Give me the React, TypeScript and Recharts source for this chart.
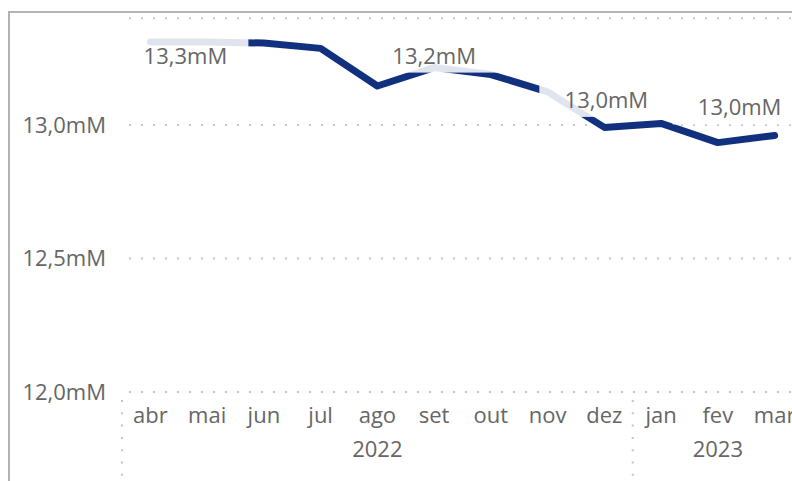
import React from 'react';
import { LineChart, Line, XAxis, YAxis, CartesianGrid } from 'recharts';

const months = ['abr', 'mai', 'jun', 'jul', 'ago', 'set', 'out', 'nov', 'dez', 'jan', 'fev', 'mar'];
const years = ['2022', '2022', '2022', '2022', '2022', '2022', '2022', '2022', '2022', '2023', '2023', '2023'];
const values = [13.311, 13.311, 13.307, 13.287, 13.146, 13.215, 13.189, 13.124, 12.991, 13.006, 12.934, 12.961];
const yTicks = [12.0, 12.5, 13.0];

// label placement (style only)
const labelOffsets: Record<string, { dx: number; dy: number }> = {
  abr: { dx: 35, dy: 14 },
  set: { dx: 0, dy: -12 },
  dez: { dx: 2, dy: -27.5 },
  mar: { dx: -35, dy: -28 },
};

const data = months.map((m, i) => ({ month: m, year: years[i], value: values[i] }));

const FONT = "'Open Sans', sans-serif";
const TEXT = '#666666';
const NAVY = '#11317f';
const STEP = 56.75;

const fmt = (v: number) => v.toFixed(1).replace('.', ',') + 'mM';

const groups = (() => {
  const g: { start: number; end: number; year: string }[] = [];
  years.forEach((y, i) => {
    if (i === 0 || y !== years[i - 1]) g.push({ start: i, end: i, year: y });
    else g[g.length - 1].end = i;
  });
  return g;
})();

const MonthTick = (props: any) => {
  const { x, y, payload } = props;
  const idx = payload?.index ?? props.index;
  const grp = groups.find((g) => idx >= g.start && idx <= g.end)!;
  const isStart = grp.start === idx;
  const mid = (grp.start + grp.end) / 2;
  const isMid = Math.floor(mid) === idx;
  return (
    <g>
      <text x={x} y={y + 31} textAnchor="middle" fill={TEXT} fontSize={22} fontFamily={FONT}>
        {payload.value}
      </text>
      {isMid && (
        <text x={x + (mid - idx) * STEP} y={y + 65} textAnchor="middle" fill={TEXT} fontSize={22} fontFamily={FONT}>
          {grp.year}
        </text>
      )}
      {isStart && (
        <line
          x1={x - STEP / 2}
          x2={x - STEP / 2}
          y1={y + 2}
          y2={y + 86}
          stroke="#c4c4c4"
          strokeWidth={2}
          strokeDasharray="0 6 2 4.3"
        />
      )}
    </g>
  );
};

const renderLabel = (props: any) => {
  const { x, y, index, value } = props;
  const off = labelOffsets[months[index]];
  if (!off) return null;
  const cx = x + off.dx;
  const cc = y + off.dy;
  return (
    <g key={`lbl-${index}`}>
      <rect x={cx - 67} y={cc - 19} width={130} height={36} fill="#ffffff" fillOpacity={0.87} />
      <text x={cx} y={cc + 8} textAnchor="middle" fill={TEXT} fontSize={22} fontFamily={FONT}>
        {fmt(value)}
      </text>
    </g>
  );
};

export default function App() {
  return (
    <div style={{ position: 'fixed', left: 0, top: 0, width: 792, height: 481, overflow: 'hidden', background: '#fff' }}>
      <div style={{ position: 'absolute', left: 0, top: 0 }}>
        <LineChart
          width={830}
          height={481}
          data={data}
          margin={{ top: 18.2, right: 27, bottom: 0, left: 0 }}
        >
          <CartesianGrid vertical={false} stroke="#c4c4c4" strokeWidth={2} strokeDasharray="0 7 2 3" />
          <XAxis
            dataKey="month"
            type="category"
            padding={{ left: 28.4, right: 28.4 }}
            axisLine={false}
            tickLine={false}
            tickSize={0}
            tickMargin={0}
            interval={0}
            height={89}
            tick={<MonthTick />}
          />
          <YAxis
            type="number"
            domain={[12, 13.4]}
            ticks={yTicks}
            allowDataOverflow
            axisLine={false}
            tickLine={false}
            tickSize={0}
            tickMargin={16}
            width={122}
            tickFormatter={fmt}
            tick={{ fill: TEXT, fontSize: 22, fontFamily: FONT }}
          />
          <Line
            type="linear"
            dataKey="value"
            stroke={NAVY}
            strokeWidth={7}
            strokeLinejoin="round"
            strokeLinecap="round"
            dot={false}
            activeDot={false}
            isAnimationActive={false}
            label={renderLabel}
          />
        </LineChart>
      </div>
      <div
        style={{
          position: 'absolute',
          left: 8,
          top: 11,
          right: 0,
          bottom: 0,
          borderTop: '2px solid #b3b3b3',
          borderLeft: '2px solid #b3b3b3',
          pointerEvents: 'none',
        }}
      />
    </div>
  );
}
